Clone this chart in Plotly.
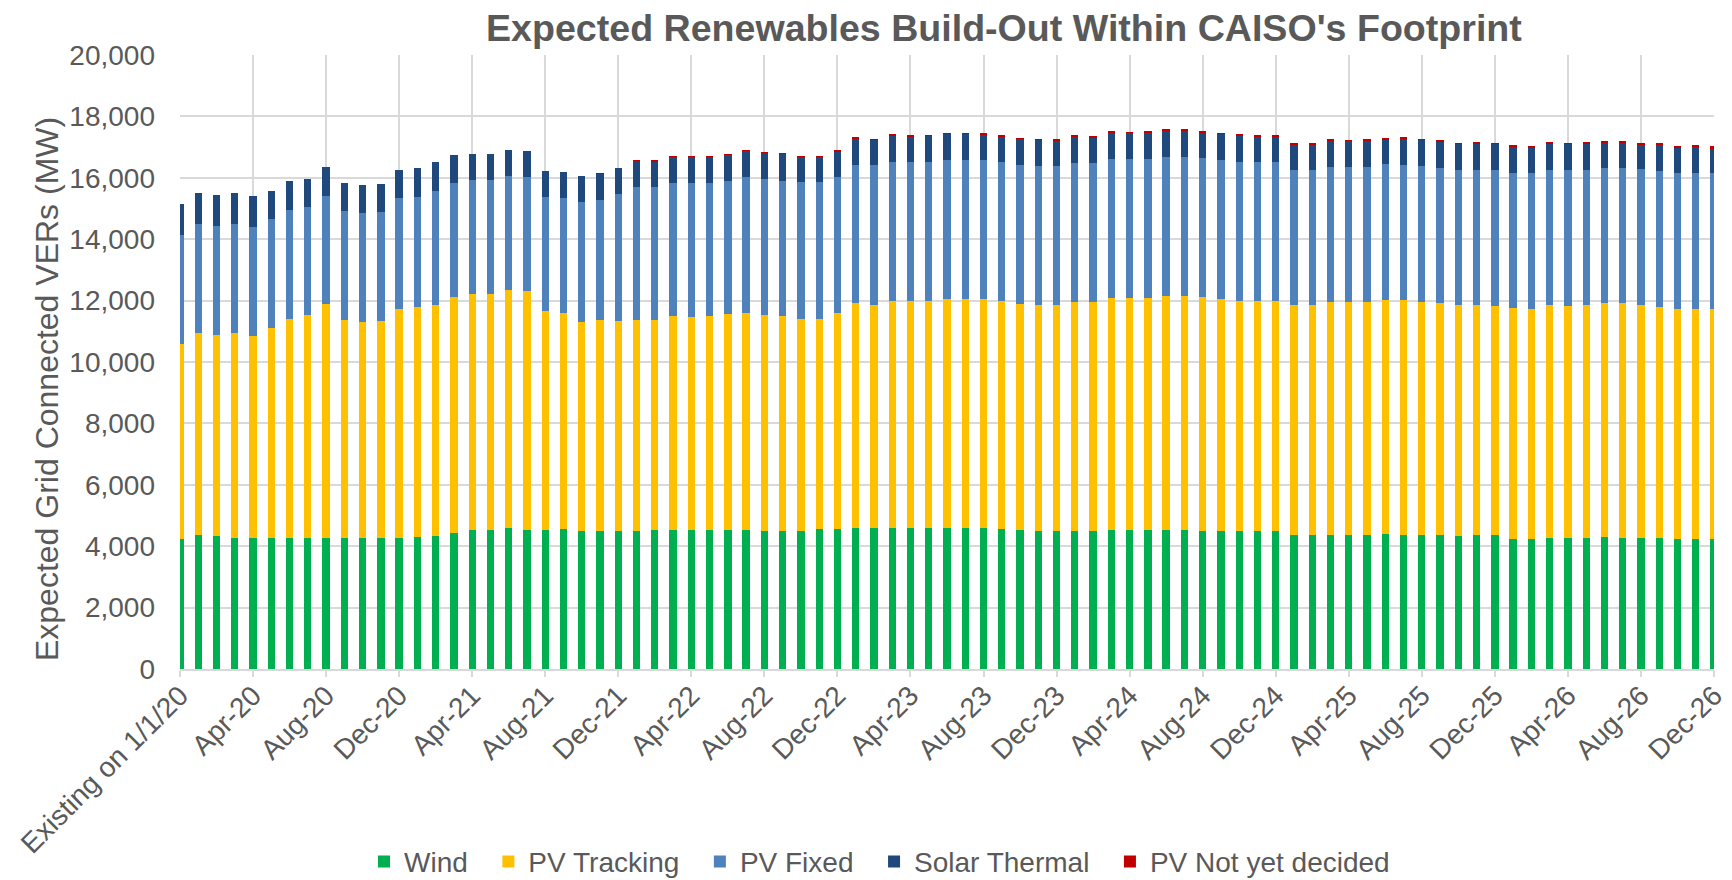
import plotly.graph_objects as go

# categories: existing capacity + monthly additions Jan-20 .. Dec-26
months = ["Existing on 1/1/20",
          "Jan-20", "Feb-20", "Mar-20", "Apr-20", "May-20", "Jun-20", "Jul-20", "Aug-20", "Sep-20", "Oct-20", "Nov-20", "Dec-20",
          "Jan-21", "Feb-21", "Mar-21", "Apr-21", "May-21", "Jun-21", "Jul-21", "Aug-21", "Sep-21", "Oct-21", "Nov-21", "Dec-21",
          "Jan-22", "Feb-22", "Mar-22", "Apr-22", "May-22", "Jun-22", "Jul-22", "Aug-22", "Sep-22", "Oct-22", "Nov-22", "Dec-22",
          "Jan-23", "Feb-23", "Mar-23", "Apr-23", "May-23", "Jun-23", "Jul-23", "Aug-23", "Sep-23", "Oct-23", "Nov-23", "Dec-23",
          "Jan-24", "Feb-24", "Mar-24", "Apr-24", "May-24", "Jun-24", "Jul-24", "Aug-24", "Sep-24", "Oct-24", "Nov-24", "Dec-24",
          "Jan-25", "Feb-25", "Mar-25", "Apr-25", "May-25", "Jun-25", "Jul-25", "Aug-25", "Sep-25", "Oct-25", "Nov-25", "Dec-25",
          "Jan-26", "Feb-26", "Mar-26", "Apr-26", "May-26", "Jun-26", "Jul-26", "Aug-26", "Sep-26", "Oct-26", "Nov-26", "Dec-26"]

# MW by technology
wind = [4250, 4350, 4330, 4280, 4270, 4270, 4270, 4270, 4280, 4270, 4270, 4280, 4280,
        4300, 4330, 4430, 4520, 4520, 4600, 4520, 4520, 4550, 4500, 4500, 4500,
        4500, 4520, 4520, 4520, 4520, 4530, 4530, 4500, 4500, 4500, 4550, 4550,
        4600, 4600, 4600, 4600, 4600, 4600, 4580, 4580, 4550, 4530, 4500, 4500,
        4500, 4490, 4530, 4520, 4530, 4530, 4520, 4500, 4500, 4490, 4500, 4500,
        4360, 4350, 4380, 4370, 4370, 4390, 4370, 4360, 4350, 4340, 4350, 4360,
        4240, 4240, 4270, 4260, 4270, 4290, 4260, 4260, 4260, 4240, 4240, 4240]

pv_tracking = [6330, 6600, 6540, 6670, 6580, 6830, 7140, 7250, 7610, 7090, 7040, 7040, 7450,
               7490, 7530, 7680, 7700, 7700, 7750, 7800, 7140, 7060, 6800, 6860, 6830,
               6870, 6840, 6980, 6960, 6980, 7040, 7070, 7040, 6990, 6910, 6860, 7040,
               7310, 7270, 7380, 7380, 7380, 7450, 7470, 7470, 7430, 7370, 7370, 7360,
               7460, 7450, 7560, 7560, 7560, 7630, 7640, 7610, 7560, 7490, 7480, 7480,
               7500, 7500, 7570, 7570, 7580, 7630, 7650, 7610, 7570, 7510, 7500, 7470,
               7510, 7500, 7580, 7570, 7580, 7620, 7650, 7610, 7540, 7500, 7500, 7490]

pv_fixed = [3550, 3540, 3550, 3540, 3560, 3550, 3530, 3520, 3530, 3560, 3540, 3550, 3600,
            3600, 3700, 3710, 3700, 3700, 3700, 3710, 3710, 3720, 3920, 3910, 4150,
            4330, 4340, 4320, 4350, 4320, 4310, 4420, 4430, 4420, 4440, 4440, 4420,
            4510, 4540, 4530, 4530, 4530, 4520, 4520, 4520, 4530, 4510, 4510, 4520,
            4520, 4530, 4520, 4520, 4520, 4520, 4520, 4520, 4510, 4530, 4550, 4530,
            4410, 4390, 4410, 4410, 4410, 4420, 4390, 4410, 4400, 4400, 4400, 4420,
            4410, 4420, 4400, 4420, 4400, 4420, 4420, 4410, 4410, 4420, 4420, 4420]

solar_thermal = [1010, 1020, 1010, 1000, 1000, 930, 940, 930, 920, 910, 930, 920, 930,
                 920, 940, 920, 850, 870, 870, 850, 840, 860, 840, 870, 850,
                 850, 840, 860, 860, 860, 870, 860, 850, 870, 830, 830, 860,
                 860, 830, 870, 850, 860, 860, 860, 840, 850, 860, 860, 850,
                 860, 830, 860, 860, 860, 850, 850, 860, 860, 870, 830, 840,
                 830, 860, 850, 850, 850, 820, 860, 860, 870, 860, 860, 860,
                 850, 840, 860, 860, 860, 830, 830, 820, 860, 840, 850, 820]

pv_undecided = [0, 0, 0, 0, 0, 0, 0, 0, 0, 0, 0, 0, 0,
                0, 0, 0, 0, 0, 0, 0, 0, 0, 0, 10, 0,
                20, 10, 20, 20, 20, 20, 20, 20, 20, 10, 10, 20,
                20, 20, 20, 20, 20, 20, 20, 20, 30, 20, 20, 20,
                30, 30, 30, 30, 30, 30, 30, 20, 20, 30, 30, 40,
                45, 30, 40, 30, 40, 45, 45, 20, 30, 20, 40, 20,
                30, 30, 40, 20, 40, 40, 40, 50, 40, 40, 50, 60]

series = [
    ("Wind", wind, "#00B050"),
    ("PV Tracking", pv_tracking, "#FFC000"),
    ("PV Fixed", pv_fixed, "#4F81BD"),
    ("Solar Thermal", solar_thermal, "#1F497D"),
    ("PV Not yet decided", pv_undecided, "#C00000"),
]

FONT = "Liberation Sans, Arial, sans-serif"
GREY = "#595959"
GRID = "#d9d9d9"
PAD = "\u00a0\u00a0"  # extra room between legend entries

fig = go.Figure()
for i, (name, vals, col) in enumerate(series):
    label = name + (PAD if i < len(series) - 1 else "")
    fig.add_trace(go.Bar(x=months, y=vals, name=label, marker_color=col,
                         marker_line_width=0))

tick_labels = months[::4]

# page has an 8px body margin, so the margins below are offset by it
fig.update_layout(
    width=1732, height=880,
    template="none",
    barmode="stack",
    bargap=0.6,
    plot_bgcolor="white",
    paper_bgcolor="white",
    font=dict(family=FONT, size=28, color=GREY),
    margin=dict(l=172, r=26, t=47, b=219, autoexpand=False),
    title=dict(text="<b>Expected Renewables Build-Out Within CAISO's Footprint</b>",
               font=dict(size=37.6, color=GREY, family=FONT),
               x=0.575, xanchor="center", y=0.978, yanchor="middle"),
    legend=dict(orientation="h", x=0.456, xanchor="center", y=-0.314, yanchor="middle",
                font=dict(size=28, color=GREY), traceorder="normal",
                itemwidth=30, bgcolor="rgba(0,0,0,0)"),
    showlegend=True,
)

fig.update_xaxes(
    type="category",
    range=[0, 84],
    tickmode="array", tickvals=tick_labels, ticktext=tick_labels,
    tickangle=-45,
    showgrid=True, gridcolor=GRID, gridwidth=2,
    showline=True, linecolor=GRID, linewidth=2,
    ticks="outside", ticklen=6, tickcolor=GRID, tickwidth=2,
    ticklabelstandoff=-9,
    tickfont=dict(size=28, color=GREY),
    automargin=False,
    zeroline=False,
)

fig.update_yaxes(
    range=[0, 20000],
    dtick=2000, tickformat=",",
    showgrid=True, gridcolor=GRID, gridwidth=2,
    showline=False, zeroline=False,
    ticks="", ticklabelstandoff=24,
    tickfont=dict(size=28, color=GREY),
    automargin=False,
)

fig.add_annotation(text="Expected Grid Connected VERs (MW)", textangle=-90,
                   xref="paper", yref="paper", x=-0.0867, y=0.456,
                   xanchor="center", yanchor="middle", showarrow=False,
                   font=dict(size=32, color=GREY))

fig.write_html("out.html")
